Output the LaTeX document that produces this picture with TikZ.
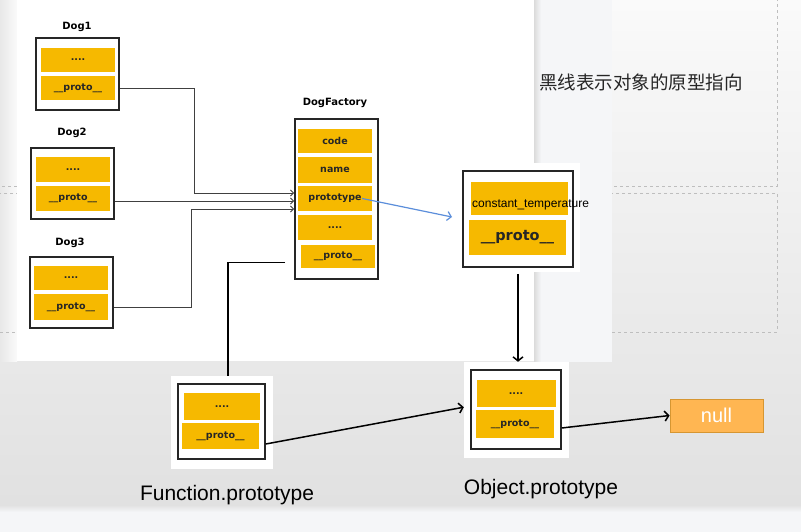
\documentclass[tikz,border=0pt]{standalone}
\usepackage{fontspec}
\setmainfont{Liberation Sans}
\newfontfamily\cjkfont{Noto Sans CJK SC}
\newfontfamily\handfont{DejaVu Sans}
\usetikzlibrary{arrows.meta}

\newlength{\du}
\setlength{\du}{1pt}

\definecolor{slotcolor}{RGB}{246,185,0}
\definecolor{nullfill}{RGB}{255,182,82}
\definecolor{nullline}{RGB}{214,150,50}
\definecolor{protoblue}{RGB}{91,142,219}
\definecolor{pagegray}{RGB}{225,225,225}
\definecolor{pagelight}{RGB}{250,250,250}
\definecolor{stripcolor}{RGB}{245,246,248}
\definecolor{dashcolor}{RGB}{190,190,190}

\tikzset{
  frame/.style={draw=black!85, line width=1.6\du, inner sep=0pt},
  picbg/.style={fill=white, inner sep=0pt},
  slot/.style={fill=slotcolor, inner sep=0pt, minimum width=74\du, minimum height=24\du,
    text=black!85, font=\handfont\bfseries\fontsize{9.5}{10}\selectfont},
  title/.style={font=\handfont\bfseries\fontsize{10}{12}\selectfont},
  feed/.style={draw=black!75, line width=0.8\du, -{Straight Barb[length=3pt,width=6pt]}},
  chain/.style={draw=black, line width=1.5\du, -{Straight Barb[length=4pt,width=10pt]}},
  caption/.style={font=\fontsize{21}{24}\selectfont, inner sep=0pt},
}

\begin{document}
\begin{tikzpicture}[x=1\du,y=-1\du]
\useasboundingbox (0,0) rectangle (801,532);
% slide background
\shade[top color=pagelight, bottom color=pagegray] (0,0) rectangle (801,505);
\shade[left color=black!9, right color=pagelight] (0,0) rectangle (17,361);
\fill[stripcolor] (0,505) rectangle (801,532);
\shade[top color=pagegray, bottom color=stripcolor] (0,505) rectangle (801,512);
\draw[dashcolor, dashed] (-5,-5) rectangle (777,186);
\draw[dashcolor, dashed] (-5,193) rectangle (777,332);
% pasted pictures
\fill[white] (17,0) rectangle (534,361);
\fill[stripcolor] (534,0) rectangle (612,362);
\shade[left color=black!14, right color=stripcolor] (534,0) rectangle (541,362);
\node[picbg, minimum width=118\du, minimum height=109\du] (ctpic) at (521,217.5) {};
\node[picbg, minimum width=102\du, minimum height=93\du] (fnpic) at (222,422.5) {};
\node[picbg, minimum width=105\du, minimum height=96\du] (objpic) at (516.5,410) {};

% Dog1
\node[title] (dogonename) at (77,27) {Dog1};
\node[frame, minimum width=83\du, minimum height=72\du] (dogone) at (77.5,74) {};
\node[slot] (dogonedots) at (78,60) {....};
\node[slot] (dogoneproto) at (78,88) {\_\_proto\_\_};
% Dog2
\node[title] (dogtwoname) at (72,133) {Dog2};
\node[frame, minimum width=83\du, minimum height=71\du] (dogtwo) at (72.5,183.5) {};
\node[slot, minimum height=25\du] (dogtwodots) at (73,169.5) {....};
\node[slot, minimum height=25\du] (dogtwoproto) at (73,198.5) {\_\_proto\_\_};
% Dog3
\node[title] (dogthreename) at (70,243) {Dog3};
\node[frame, minimum width=83\du, minimum height=71\du] (dogthree) at (71.5,292.5) {};
\node[slot] (dogthreedots) at (71,278) {....};
\node[slot, minimum height=26\du] (dogthreeproto) at (71,307) {\_\_proto\_\_};

% DogFactory
\node[title] (factoryname) at (335,103) {DogFactory};
\node[frame, minimum width=83\du, minimum height=160\du] (factory) at (336.5,199) {};
\node[slot] (dfcode) at (335,141) {code};
\node[slot, minimum height=26\du] (dfname) at (335,170) {name};
\node[slot, minimum height=25\du] (dfprototype) at (335,198.5) {prototype};
\node[slot, minimum height=25\du] (dfdots) at (335,227.5) {....};
\node[slot, minimum height=23\du] (dfproto) at (338,256.5) {\_\_proto\_\_};

% constant_temperature object
\node[frame, minimum width=110\du, minimum height=96\du] (ctfrm) at (518,219) {};
\node[slot, minimum width=97\du, minimum height=33\du] (ctslot) at (519.5,198.5) {};
\node[slot, minimum width=97\du, minimum height=35\du,
  font=\handfont\bfseries\fontsize{14.5}{16}\selectfont] (ctproto) at (517.5,237.5) {\_\_proto\_\_};
\node[anchor=west, inner sep=0pt, font=\fontsize{12}{14}\selectfont] (ctname) at (472,204.5) {constant\_temperature};

% Function.prototype
\node[frame, minimum width=87\du, minimum height=75\du] (fnfrm) at (221.5,421.5) {};
\node[slot, minimum width=76\du, minimum height=27\du] (fndots) at (222,406.5) {....};
\node[slot, minimum width=77\du, minimum height=26\du] (fnproto) at (220.5,436) {\_\_proto\_\_};
\node[caption, anchor=base] (fncaption) at (227,500) {Function.prototype};

% Object.prototype
\node[frame, minimum width=90\du, minimum height=79\du] (objfrm) at (516,409.5) {};
\node[slot, minimum width=79\du, minimum height=27\du] (objdots) at (516,393.5) {....};
\node[slot, minimum width=78\du, minimum height=28\du] (objproto) at (515,424) {\_\_proto\_\_};
\node[caption, anchor=base] (objcaption) at (541,494) {Object.prototype};

% null
\node[fill=nullfill, draw=nullline, line width=0.8\du, minimum width=93\du, minimum height=33\du,
  text=white, font=\fontsize{20}{22}\selectfont] (nullbox) at (716.5,415.5) {null};

% note
\node[anchor=west, inner sep=0pt, text=black!85, font=\cjkfont\fontsize{18.5}{20}\selectfont] (note) at (539,82) {黑线表示对象的原型指向};

% Dog -> DogFactory.prototype
\coordinate (inone) at (294,193);
\coordinate (intwo) at (294,201);
\coordinate (inthree) at (294,209);
\draw[feed] (dogone.east |- dogoneproto) -- ++(75,0) |- (inone);
\draw[feed] (dogtwo.east |- intwo) -- (intwo);
\draw[feed] (dogthree.east |- dogthreeproto) -- ++(78,0) |- (inthree);

% prototype -> constant_temperature
\coordinate (bluetip) at (452,217);
\draw[protoblue, line width=1.2\du, -{Straight Barb[length=4pt,width=9pt]}]
  ([xshift=-10\du]dfprototype.east) -- (bluetip);

% proto chains
\draw[black, line width=1.5\du] ([xshift=-9\du,yshift=-6\du]factory.west |- dfproto) -| ([xshift=6\du]fnpic.north);
\draw[chain] ([yshift=-6\du]ctfrm.south) -- (ctfrm.south |- objpic.north);
\draw[chain] ([yshift=-8\du]fnfrm.east |- fnproto) -- (objpic.west |- objdots.south);
\draw[chain] ([yshift=-4\du]objfrm.east |- objproto) -- (nullbox.west);
\end{tikzpicture}
\end{document}
